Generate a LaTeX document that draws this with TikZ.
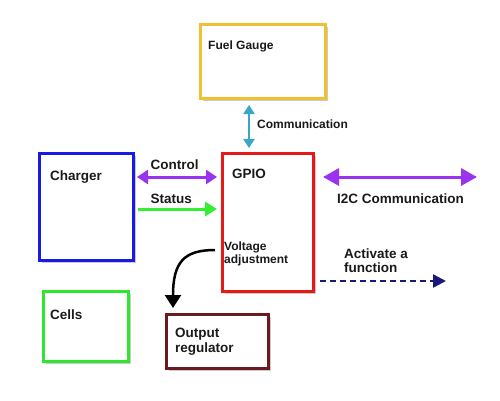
\documentclass[tikz,border=0pt]{standalone}
\usepackage{fontspec}
\setmainfont{Liberation Sans}
\usetikzlibrary{arrows.meta,shadows}
\definecolor{cgold}{HTML}{F0C030}
\definecolor{cblue}{HTML}{1A1AE6}
\definecolor{cred}{HTML}{E61919}
\definecolor{cgreen}{HTML}{2DE62D}
\definecolor{cmaroon}{HTML}{6B1A22}
\definecolor{cpurple}{HTML}{9933EE}
\definecolor{cgarrow}{HTML}{33EE33}
\definecolor{cteal}{HTML}{3AA6C6}
\definecolor{cnavy}{HTML}{1A1A7A}
\definecolor{ctext}{HTML}{1A1A1A}
\begin{document}
\begin{tikzpicture}[x=1pt,y=-1pt,
  box/.style={draw, line width=3pt, fill=white, inner sep=0pt, rectangle,
    drop shadow={shadow xshift=2pt, shadow yshift=-2pt, fill=black!40, opacity=0.5}},
  lbl/.style={anchor=base west, inner sep=0pt, text=ctext, font=\fontsize{13.5}{15}\selectfont\bfseries},
  slbl/.style={anchor=base west, inner sep=0pt, text=ctext, font=\fontsize{12}{13}\selectfont\bfseries},
  bigtip/.style={arrows={-Triangle[length=12pt,width=14pt]}},
  dbltip/.style={arrows={Triangle[length=11pt,width=14pt]-Triangle[length=11pt,width=14pt]}},
  bigdbltip/.style={arrows={Triangle[length=16pt,width=17pt]-Triangle[length=16pt,width=17pt]}},
  conn/.style={line width=3pt}
]
\useasboundingbox (0,0) rectangle (500,400);
\fill[white] (0,0) rectangle (500,400);

% boxes
\node[box, draw=cgold, minimum width=125pt, minimum height=74pt] (fuel) at (263,61.5) {};
\node[box, draw=cblue, minimum width=94pt, minimum height=107pt] (charger) at (86.5,207) {};
\node[box, draw=cred, minimum width=91pt, minimum height=138pt] (gpio) at (268,222.5) {};
\node[box, draw=cgreen, minimum width=85pt, minimum height=70pt] (cells) at (86,326.5) {};
\node[box, draw=cmaroon, minimum width=102pt, minimum height=54pt] (outreg) at (217.5,341.5) {};

% box labels
\node[slbl] (tfuel) at (208,49) {Fuel Gauge};
\node[lbl] (tcharger) at (50,180) {Charger};
\node[lbl] (tgpio) at (232,178) {GPIO};
\node[slbl] (tvolt1) at (224,250) {Voltage};
\node[slbl] (tvolt2) at (224,263) {adjustment};
\node[lbl] (tcells) at (50,319) {Cells};
\node[lbl] (tout1) at (175,337) {Output};
\node[lbl] (tout2) at (175,352) {regulator};

% connector labels
\node[slbl] (tcomm) at (257,128) {Communication};
\node[lbl] (tcontrol) at (150.5,169) {Control};
\node[lbl] (tstatus) at (150.5,203) {Status};
\node[lbl] (ti2c) at (337,203) {I2C Communication};
\node[lbl] (tact1) at (344,258) {Activate a};
\node[lbl] (tact2) at (344,272) {function};

% free ends
\coordinate (i2cend) at (477,177);
\coordinate (actend) at (446,281);
\coordinate (vstart) at (215,250);
\coordinate (vend) at (173,308);

% connectors
\draw[conn, cteal, line width=2.5pt, arrows={Triangle[length=9pt,width=11pt]-Triangle[length=9pt,width=11pt]},
  shorten <=5pt, shorten >=4pt] (fuel.south -| 249,0) -- (gpio.north -| 249,0);
\draw[conn, cpurple, dbltip, shorten <=2pt, shorten >=4pt] (charger.east |- 0,177) -- (gpio.west |- 0,177);
\draw[conn, cgarrow, bigtip, shorten <=3pt, shorten >=4pt] (charger.east |- 0,209) -- (gpio.west |- 0,209);
\draw[conn, cpurple, bigdbltip, shorten <=8pt] (gpio.east |- 0,177) -- (i2cend);
\draw[line width=2.5pt, cnavy, dash pattern=on 6pt off 4pt,
  arrows={-Triangle[length=13pt,width=13pt]}, shorten <=5pt] (gpio.east |- 0,281) -- (actend);
\draw[line width=2.5pt, black, arrows={-Triangle[length=13pt,width=16pt]}]
  (vstart) .. controls (184,250) and (173,262) .. (vend);
\end{tikzpicture}
\end{document}
